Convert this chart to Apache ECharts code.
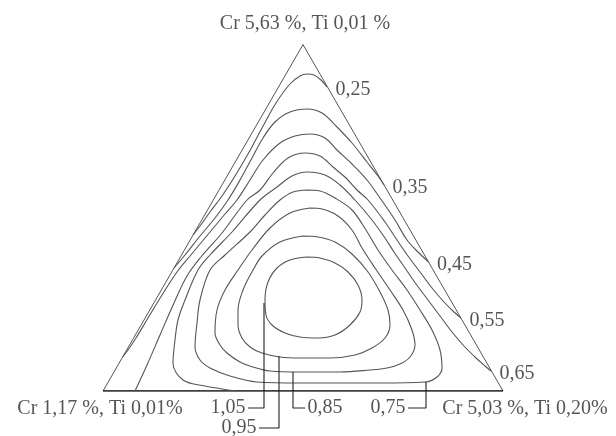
<!DOCTYPE html>
<html>
<head>
<meta charset="utf-8">
<title>Cr - Ti ternary contours</title>
<script src="https://cdn.jsdelivr.net/npm/echarts@6/dist/echarts.min.js"></script>
<style>html,body{margin:0;padding:0;background:#fff;}</style>
</head>
<body>
<div id="main" style="width:616px;height:436px;"></div>
<script type="text/javascript">
// triangle corners: x runs 0..100 along the base, y is the height
var vertices = [[0, 0], [100, 0], [50, 86.6]];
var vertexNames = ['Cr 1,17 %, Ti 0,01%', 'Cr 5,03 %, Ti 0,20%', 'Cr 5,63 %, Ti 0,01 %'];

// contour levels, outermost first
var levels = ['0,25', '0,35', '0,45', '0,55', '0,65', '0,75', '0,85', '0,95', '1,05'];

// open contours, each ends on the right edge
var c025 = [[22.5, 39], [24.25, 41.25], [26.75, 44.75], [29.75, 48.75], [33, 53.75], [36.25, 59.25],
	[39.75, 65.75], [43.25, 72], [46.75, 76.75], [49.25, 78.75], [51, 79.25], [52.75, 79], [54.5, 77.75], [56, 76]];
var c035 = [[17.75, 30.75], [20.5, 34], [24.25, 38.75], [28, 43.25], [31.25, 47.75], [34.25, 52.75],
	[37.25, 58.25], [40, 63.25], [43, 67.25], [46.75, 69.75], [51, 70.5], [54.75, 69.5], [58.5, 66],
	[62.25, 62], [66, 57.25], [68.75, 53.75], [70.25, 51.5]];
var c045 = [[4.9, 8.5], [6.25, 10.25], [8.25, 13.25], [11.25, 18.25], [14.75, 24], [18.5, 29.75],
	[21.75, 33.75], [26.75, 39.75], [30.5, 44.25], [33.5, 47.75], [36.75, 52.75], [40, 57.75],
	[44.25, 62], [48, 63.75], [51.75, 64.25], [55.5, 63.25], [58.5, 60.25], [62.25, 56.75], [66, 52.75],
	[69.25, 48.25], [73, 42.75], [76, 37.75], [78.75, 34.75], [81.4, 32.25]];
var c055 = [[8, 0], [11, 6.5], [14.25, 14], [17.75, 22], [21, 28.75], [24.5, 33.5], [29.75, 39.5],
	[36, 47.75], [39.25, 50.25], [42.5, 54.5], [46.25, 58.25], [50.5, 59.5], [54.25, 58.75], [57.5, 56],
	[60.75, 53.25], [63.5, 50.25], [66.25, 47.75], [70.5, 42.25], [73.5, 37.75], [76.25, 33.75],
	[79.25, 29.75], [82.25, 25.75], [85.25, 22.25], [87.75, 19.75], [89.5, 18.25]];
var c065 = [[33.25, 0], [25.5, 1.25], [20, 2.75], [17.5, 7], [18, 12.75], [18.75, 17.75], [20.5, 22.75],
	[23.75, 30.25], [26.75, 34], [32.25, 39.75], [39.25, 47.75], [43.5, 51], [47.25, 53.75], [51, 54.75],
	[55.5, 54], [59.25, 51.5], [63, 47.75], [67.25, 42.75], [70.5, 38.25], [72.75, 34.75], [75.5, 30.75],
	[78.25, 26.75], [81.25, 22.75], [84.25, 18.75], [87.25, 14.75], [90.25, 11.25], [93.25, 8.25],
	[95.5, 6.25], [97, 5]];
// closed contours
var c075 = [[51, 50.25], [47.5, 49.75], [44.25, 47.75], [40.5, 44], [36.75, 39.75], [30.5, 34], [26.75, 30.25],
	[24.25, 22.75], [23.5, 17], [23, 11], [24.25, 7.75], [26.75, 5.75], [31.75, 3.75], [38.5, 2.25],
	[49.25, 2], [59.25, 2], [69.25, 2], [80.5, 2.25], [83.5, 3.5], [84.75, 5.75], [84.25, 10.25],
	[82.25, 15.25], [79.25, 20.25], [76, 25.25], [72.25, 30.25], [68.75, 35.25], [65.75, 40.25],
	[62.25, 45.25], [58, 48.25], [54.25, 50], [51, 50.25]];
var c085 = [[51.75, 45.75], [46.75, 44.5], [41.75, 40.75], [37.25, 35.25], [33.75, 30.25], [30.5, 25.25],
	[28.5, 20.25], [28, 14.5], [29.25, 11.5], [31, 9.5], [34.25, 7.25], [37.5, 6], [41.75, 5], [49.25, 4.75],
	[59.25, 4.75], [66.75, 5.25], [71, 5.75], [74.25, 6.75], [76.75, 8.5], [78, 11.5], [77.25, 15.25],
	[75, 20.25], [71.75, 25.25], [68, 30.75], [64.75, 35.75], [62.25, 40.25], [58.75, 43.75],
	[54.75, 45.5], [51.75, 45.75]];
var c095 = [[50, 38.75], [44.25, 37.25], [39.75, 33.75], [37.5, 30.25], [35, 25.25], [33.75, 20.25],
	[33.75, 16.5], [34.75, 13.25], [36.75, 11], [39.75, 9.5], [44.25, 8.5], [49.25, 8.25], [56.75, 8.25],
	[63, 9], [67.25, 10.75], [70.5, 13.25], [71.75, 16.5], [71.25, 20.25], [69.25, 24.75], [66.25, 29.75],
	[62.25, 34.25], [58, 37.25], [53.75, 38.5], [50, 38.75]];
var c105 = [[51, 33.5], [46.75, 32.75], [43.5, 30.75], [41.25, 27.25], [40.5, 22.75], [40.75, 19],
	[42.25, 16.5], [45.5, 14.5], [49.25, 13.5], [53.75, 13.25], [58, 14], [61.75, 16.5], [64.25, 19.75],
	[64.75, 22.75], [63.75, 26.5], [61.25, 29.75], [58, 32], [54.25, 33.25], [51, 33.5]];
var contours = [c025, c035, c045, c055, c065, c075, c085, c095, c105];

// leader lines below the base for the inner levels
var leader075 = [[80.75, 2.25], [80.75, -4.25], [76.25, -4.25]];
var leader085 = [[47.5, 4.75], [47.5, -4.25], [50.5, -4.25]];
var leader095 = [[44, 8.75], [44, -9.25], [39, -9.25]];
var leader105 = [[40.25, 22], [40.25, -4.25], [36.25, -4.25]];
var leaders = [leader075, leader085, leader095, leader105];
var leaderLevels = ['0,75', '0,85', '0,95', '1,05'];

var chart = echarts.init(document.getElementById('main'), null, { renderer: 'canvas' });

var textFont = {
	fontFamily: 'Liberation Serif',
	fontSize: 20,
	color: '#2a2a2a'
};

var series = [];

// triangle sides
series.push({
	type: 'line',
	data: [vertices[0], vertices[2], vertices[1]],
	symbol: 'none',
	lineStyle: { color: '#555', width: 1 },
	silent: true
});
series.push({
	type: 'line',
	data: [vertices[0], vertices[1]],
	symbol: 'none',
	lineStyle: { color: '#000', width: 1.6 },
	silent: true
});

// contours
for (var i = 0; i < contours.length; i++) {
	series.push({
		type: 'line',
		name: levels[i],
		data: contours[i],
		smooth: 0.35,
		symbol: 'none',
		lineStyle: { color: '#555', width: 1.1 },
		silent: true
	});
}

// leaders
for (var j = 0; j < leaders.length; j++) {
	series.push({
		type: 'line',
		data: leaders[j],
		symbol: 'none',
		clip: false,
		lineStyle: { color: '#222', width: 1.1 },
		silent: true
	});
}

// labels: right-edge levels at the contour ends, inner levels at the leader ends
var labelData = [];
for (var k = 0; k < 5; k++) {
	var end = contours[k][contours[k].length - 1];
	labelData.push({
		name: levels[k],
		value: end,
		label: { position: 'right', distance: 8, offset: [0, 3] }
	});
}
for (var m = 0; m < leaders.length; m++) {
	var tip = leaders[m][leaders[m].length - 1];
	var goesRight = tip[0] > leaders[m][1][0];
	labelData.push({
		name: leaderLevels[m],
		value: tip,
		label: { position: goesRight ? 'right' : 'left', distance: 2 }
	});
}
// corner compositions
labelData.push({ name: vertexNames[0], value: vertices[0], label: { position: 'bottom', distance: 7, offset: [-3, 0] } });
labelData.push({ name: vertexNames[1], value: vertices[1], label: { position: 'bottom', distance: 7, offset: [22, 0] } });
labelData.push({ name: vertexNames[2], value: vertices[2], label: { position: 'top', distance: 10, offset: [2, 0] } });

series.push({
	type: 'scatter',
	data: labelData,
	symbolSize: 1,
	clip: false,
	itemStyle: { color: 'rgba(0,0,0,0)' },
	label: {
		show: true,
		formatter: '{b}',
		fontFamily: textFont.fontFamily,
		fontSize: textFont.fontSize,
		color: textFont.color
	},
	silent: true
});

var option = {
	backgroundColor: '#fff',
	animation: false,
	grid: { left: 103, right: 113, top: 44, bottom: 45 },
	xAxis: { type: 'value', min: 0, max: 100, show: false },
	yAxis: { type: 'value', min: 0, max: 86.75, show: false },
	series: series
};
chart.setOption(option);
</script>
</body>
</html>
